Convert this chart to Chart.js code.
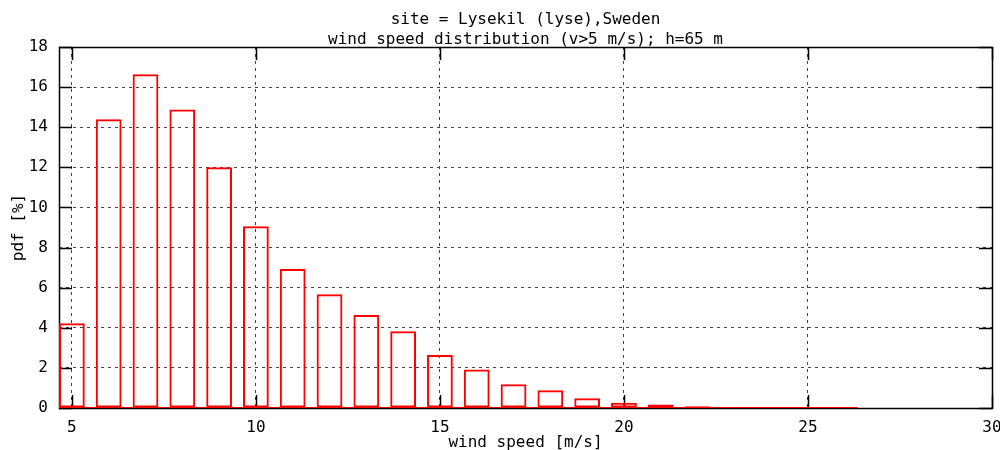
<!DOCTYPE html>
<html><head><meta charset="utf-8">
<script src="https://cdn.jsdelivr.net/npm/chart.js@4.4.1/dist/chart.umd.min.js"></script>
<style>html,body{margin:0;padding:0;background:#fff}#wrap{width:1000px;height:450px}</style>
</head><body><div id="wrap"><canvas id="c" width="1000" height="450"></canvas></div>
<script>
const windSpeeds = [5,6,7,8,9,10,11,12,13,14,15,16,17,18,19,20,21,22,23,24,25,26];
const pdfValues  = [4.23,14.40,16.64,14.88,12.01,9.06,6.93,5.67,4.64,3.83,2.64,1.92,1.19,0.88,0.48,0.26,0.17,0.09,0.03,0.015,0.008,0.004];
const xTickValues = [5,10,15,20,25,30];
const yTickValues = [0,2,4,6,8,10,12,14,16,18];
const titleLines = ['site = Lysekil (lyse),Sweden', 'wind speed distribution (v>5 m/s); h=65 m'];
const xAxisTitle = 'wind speed [m/s]';
const yAxisTitle = 'pdf [%]';
const boxWidth = 0.7;
const xRange = [4.65, 30];
const yRange = [0, 18];

const FONT = "'DejaVu Sans Mono', 'Liberation Mono', monospace";

const framePlugin = {
  id: 'frame',
  beforeDatasetsDraw(chart) {
    const {ctx, chartArea: a, scales} = chart;
    ctx.save();
    ctx.setLineDash([]);
    ctx.strokeStyle = '#000';
    ctx.lineWidth = 1.5;
    ctx.beginPath();
    const T = 13;
    yTickValues.forEach(v => {
      const y = Math.round(scales.y.getPixelForValue(v)) + 0.5;
      ctx.moveTo(a.left, y); ctx.lineTo(a.left + T, y);
      ctx.moveTo(a.right, y); ctx.lineTo(a.right - T, y);
    });
    xTickValues.forEach(v => {
      const x = Math.round(scales.x.getPixelForValue(v)) + 0.5;
      ctx.moveTo(x, a.bottom); ctx.lineTo(x, a.bottom - T);
      ctx.moveTo(x, a.top); ctx.lineTo(x, a.top + T);
    });
    ctx.stroke();
    ctx.strokeRect(Math.round(a.left) + 0.5, Math.round(a.top) + 0.5, Math.round(a.right - a.left), Math.round(a.bottom - a.top));
    ctx.restore();
  }
};

new Chart(document.getElementById('c'), {
  type: 'bar',
  data: {
    datasets: [
      {
        type: 'bar',
        data: windSpeeds.map((x, i) => ({x, y: pdfValues[i]})),
        borderColor: '#ff0000',
        backgroundColor: 'rgba(0,0,0,0)',
        borderWidth: 2,
        borderSkipped: false,
        barPercentage: boxWidth,
        categoryPercentage: 1,
        order: 1
      },
      {
        type: 'line',
        data: [{x: windSpeeds[0] - boxWidth / 2, y: 0}, {x: windSpeeds[windSpeeds.length - 1] + boxWidth / 2, y: 0}],
        borderColor: '#ff0000',
        borderWidth: 2,
        pointRadius: 0,
        fill: false,
        order: 0
      }
    ]
  },
  options: {
    responsive: false,
    devicePixelRatio: 1,
    animation: false,
    layout: {padding: {left: 0, right: 8, top: 0, bottom: 0}},
    plugins: {
      legend: {display: false},
      tooltip: {enabled: false},
      title: {
        display: true,
        text: titleLines,
        fullSize: false,
        color: '#000',
        font: {family: FONT, size: 16, weight: 'normal', lineHeight: '20px'},
        padding: {top: 10, bottom: -3}
      }
    },
    scales: {
      x: {
        type: 'linear',
        min: xRange[0],
        max: xRange[1],
        offset: false,
        afterBuildTicks(s) { s.ticks = xTickValues.map(v => ({value: v})); },
        afterFit(s) { s.height = 42; s.paddingLeft = 0; s.paddingRight = 0; },
        border: {display: false, dash: [3, 4]},
        grid: {color: '#444', lineWidth: 1, drawTicks: false, offset: false},
        ticks: {color: '#000', font: {family: FONT, size: 16, lineHeight: 1.2}, padding: 10, maxRotation: 0, autoSkip: false},
        title: {display: true, text: xAxisTitle, color: '#000', font: {family: FONT, size: 16, lineHeight: 1.2}, padding: {top: -5, bottom: -2}}
      },
      y: {
        type: 'linear',
        min: yRange[0],
        max: yRange[1],
        afterBuildTicks(s) { s.ticks = yTickValues.map(v => ({value: v})); },
        afterFit(s) { s.width = 59; s.paddingTop = 0; s.paddingBottom = 0; },
        border: {display: false, dash: [3, 4]},
        grid: {color: '#444', lineWidth: 1, drawTicks: false},
        ticks: {color: '#000', font: {family: FONT, size: 16, lineHeight: 1.2}, padding: 11},
        title: {display: true, text: yAxisTitle, color: '#000', font: {family: FONT, size: 16, lineHeight: 1.2}, padding: {top: 9.4, bottom: 0}}
      }
    }
  },
  plugins: [framePlugin]
});
</script>
</body></html>
